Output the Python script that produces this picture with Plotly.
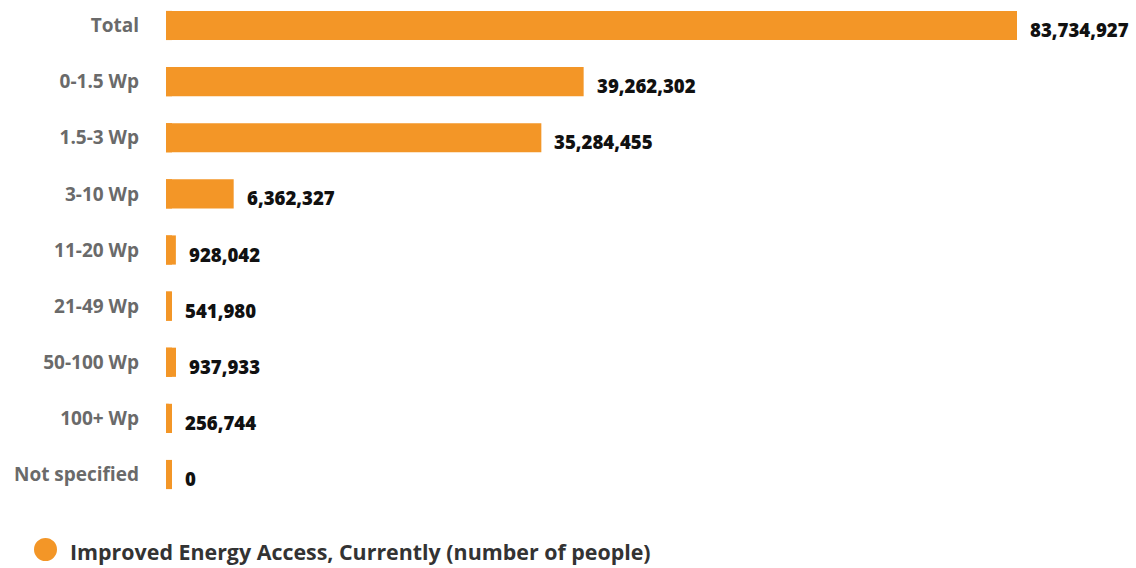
import plotly.graph_objects as go

categories = ["Total", "0-1.5 Wp", "1.5-3 Wp", "3-10 Wp", "11-20 Wp",
              "21-49 Wp", "50-100 Wp", "100+ Wp", "Not specified"]
people = [83734927, 39262302, 35284455, 6362327, 928042,
          541980, 937933, 256744, 0]
series_name = "Improved Energy Access, Currently (number of people)"

BAR_COLOR = "#F39627"
LABEL_GREY = "#6A6A6A"
FONT = "Open Sans"

W, H = 1136, 568
ML, MR, MT, MB = 166, 119, 0, 68
plot_w = W - ML - MR
plot_h = H - MT - MB
x_max = 80_000_000          # axis ceiling; the Total bar runs into it
px_per_unit = plot_w / x_max
min_stub = 6 / px_per_unit  # smallest visible bar length (6 px)

fig = go.Figure()

# thin stub so that tiny and zero values still show a sliver of bar
fig.add_trace(go.Bar(
    y=categories, x=[min_stub] * len(categories), orientation="h",
    marker=dict(color=BAR_COLOR, line=dict(width=0)),
    width=0.52, hoverinfo="skip", showlegend=False,
))
fig.add_trace(go.Bar(
    y=categories, x=people, orientation="h", name=series_name,
    marker=dict(color=BAR_COLOR, line=dict(width=0)),
    width=0.52, showlegend=False,
))

for cat, v in zip(categories, people):
    fig.add_annotation(
        x=min(max(v, min_stub), x_max), y=cat, xref="x", yref="y",
        text=f"{v:,}", showarrow=False, xanchor="left", yanchor="middle",
        xshift=11, yshift=-4,
        font=dict(family=FONT, size=18.6, color="#111111", weight=800),
    )

# legend row
fig.add_shape(type="circle", xref="paper", yref="paper",
              x0=(34 - ML) / plot_w, x1=(57 - ML) / plot_w,
              y0=(H - MB - 561) / plot_h, y1=(H - MB - 538) / plot_h,
              fillcolor=BAR_COLOR, line=dict(width=0))
fig.add_annotation(
    x=(68 - ML) / plot_w, y=(H - MB - 551) / plot_h, xref="paper", yref="paper",
    text=series_name, showarrow=False, xanchor="left", yanchor="middle",
    font=dict(family=FONT, size=21.4, color="#333333", weight=700),
)

fig.update_layout(
    width=W, height=H, barmode="overlay",
    margin=dict(l=ML, r=MR, t=MT, b=MB),
    paper_bgcolor="white", plot_bgcolor="white",
    xaxis=dict(range=[0, x_max], visible=False, showgrid=False, zeroline=False),
    yaxis=dict(range=[8.454, -0.454], showgrid=False, zeroline=False, showline=False,
               ticks="", ticklabelstandoff=26,
               tickfont=dict(family=FONT, size=19, color=LABEL_GREY, weight=700)),
    showlegend=False,
)

fig.write_html("out.html")
